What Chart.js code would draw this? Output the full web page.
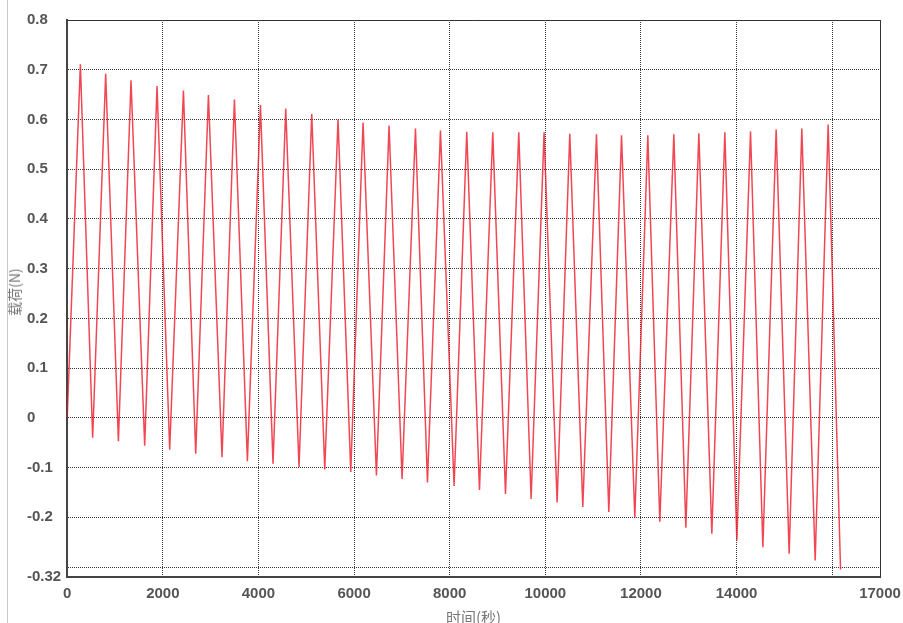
<!DOCTYPE html>
<html lang="zh">
<head>
  <meta charset="UTF-8">
  <title>载荷-时间曲线</title>
  <script src="https://cdn.jsdelivr.net/npm/chart.js"></script>
  <style>
    body {
      margin: 0;
      background: #fff;
      overflow: hidden;
    }

    .wrap {
      position: relative;
      width: 903px;
      height: 623px;
    }

    .edge {
      position: absolute;
      left: 7px;
      top: 0;
      width: 0;
      height: 623px;
      border-left: 1px solid #c8c8c8;
    }

    .y-title {
      position: absolute;
      left: 14px;
      top: 292px;
      transform: translate(-50%, -50%) rotate(-90deg);
      font-family: 'Noto Sans CJK SC', sans-serif;
      font-size: 14px;
      color: #777;
      white-space: nowrap;
    }

    canvas {
      position: absolute;
      left: 0;
      top: 0;
    }
  </style>
</head>
<body>
  <div class="wrap">
    <canvas id="loadChart" width="903" height="623"></canvas>
    <div class="edge"></div>
    <div class="y-title">载荷(N)</div>
  </div>

  <script>
    // peaks and valleys of the load cycle
    const peakTime = [276, 805, 1335, 1879, 2431, 2954, 3498, 4042, 4571, 5115,
                      5665, 6188, 6732, 7284, 7807, 8357, 8901, 9445, 9974, 10512,
                      11070, 11594, 12144, 12688, 13211, 13755, 14292, 14828, 15365, 15916];
    const peakLoad = [0.711, 0.692, 0.679, 0.667, 0.658, 0.649, 0.640, 0.629, 0.622, 0.611,
                      0.600, 0.594, 0.588, 0.582, 0.578, 0.575, 0.574, 0.574, 0.574, 0.571,
                      0.570, 0.568, 0.568, 0.570, 0.572, 0.574, 0.576, 0.580, 0.582, 0.590];
    const valleyTime = [533, 1071, 1621, 2144, 2688, 3238, 3769, 4305, 4849, 5387,
                        5931, 6468, 7004, 7535, 8092, 8623, 9167, 9703, 10247, 10784,
                        11328, 11872, 12395, 12939, 13483, 14006, 14550, 15100, 15644, 16175];
    const valleyLoad = [-0.040, -0.047, -0.056, -0.064, -0.072, -0.079, -0.087, -0.092, -0.099, -0.104,
                        -0.109, -0.116, -0.123, -0.130, -0.137, -0.145, -0.153, -0.163, -0.170, -0.179,
                        -0.189, -0.201, -0.209, -0.221, -0.233, -0.247, -0.260, -0.273, -0.287, -0.305];

    const xTickValues = [0, 2000, 4000, 6000, 8000, 10000, 12000, 14000, 16000, 17000];
    const xTickLabels = ['0', '2000', '4000', '6000', '8000', '10000', '12000', '14000', '', '17000'];
    const yTickValues = [0.8, 0.7, 0.6, 0.5, 0.4, 0.3, 0.2, 0.1, 0, -0.1, -0.2, -0.3, -0.32];
    const yTickLabels = ['0.8', '0.7', '0.6', '0.5', '0.4', '0.3', '0.2', '0.1', '0', '-0.1', '-0.2', '', '-0.32'];

    const points = [{ x: 0, y: 0 }];
    for (let i = 0; i < peakTime.length; i++) {
      points.push({ x: peakTime[i], y: peakLoad[i] });
      points.push({ x: valleyTime[i], y: valleyLoad[i] });
    }

    const tickFont = { family: 'Liberation Sans', size: 15, weight: 'bold' };

    // thin frame on the top and right side of the plot
    const framePlugin = {
      id: 'frame',
      afterDraw(chart) {
        const { ctx, chartArea: a } = chart;
        ctx.save();
        ctx.strokeStyle = '#333';
        ctx.lineWidth = 1;
        ctx.beginPath();
        ctx.moveTo(a.left, a.top + 0.5);
        ctx.lineTo(a.right + 0.5, a.top + 0.5);
        ctx.lineTo(a.right + 0.5, a.bottom);
        ctx.stroke();
        ctx.restore();
      }
    };

    // labels may hang over the plot edges, the layout padding handles the room
    const noOverhang = s => { s.paddingLeft = 0; s.paddingRight = 0; s.paddingTop = 0; s.paddingBottom = 0; };

    new Chart(document.getElementById('loadChart'), {
      type: 'line',
      data: {
        datasets: [{
          data: points,
          borderColor: 'rgba(238, 25, 40, 0.8)',
          borderWidth: 1.5,
          pointRadius: 0,
          tension: 0
        }]
      },
      options: {
        responsive: false,
        animation: false,
        layout: { padding: { left: 27, right: 23, top: 20, bottom: 0 } },
        plugins: {
          legend: { display: false },
          tooltip: { enabled: false }
        },
        scales: {
          x: {
            type: 'linear',
            min: 0,
            max: 17000,
            afterBuildTicks: scale => { scale.ticks = xTickValues.map(v => ({ value: v })); },
            afterFit: noOverhang,
            ticks: {
              autoSkip: false,
              maxRotation: 0,
              padding: 8,
              color: '#555',
              font: tickFont,
              callback: (v, i) => xTickLabels[i]
            },
            grid: { color: '#3a3a3a', lineWidth: 1, drawTicks: false },
            border: { color: '#444', width: 2, dash: [1, 1] },
            title: {
              display: true,
              text: '时间(秒)',
              color: '#777',
              font: { family: 'Noto Sans CJK SC', size: 15, lineHeight: 0.8 },
              padding: 0
            }
          },
          y: {
            type: 'linear',
            min: -0.32,
            max: 0.8,
            afterBuildTicks: scale => { scale.ticks = yTickValues.map(v => ({ value: v })); },
            afterFit: noOverhang,
            ticks: {
              autoSkip: false,
              crossAlign: 'far',
              padding: 3,
              color: '#555',
              font: tickFont,
              callback: (v, i) => yTickLabels[i]
            },
            grid: { color: '#3a3a3a', lineWidth: 1, drawTicks: false },
            border: { color: '#444', width: 2, dash: [1, 1] }
          }
        }
      },
      plugins: [framePlugin]
    });
  </script>
</body>
</html>
